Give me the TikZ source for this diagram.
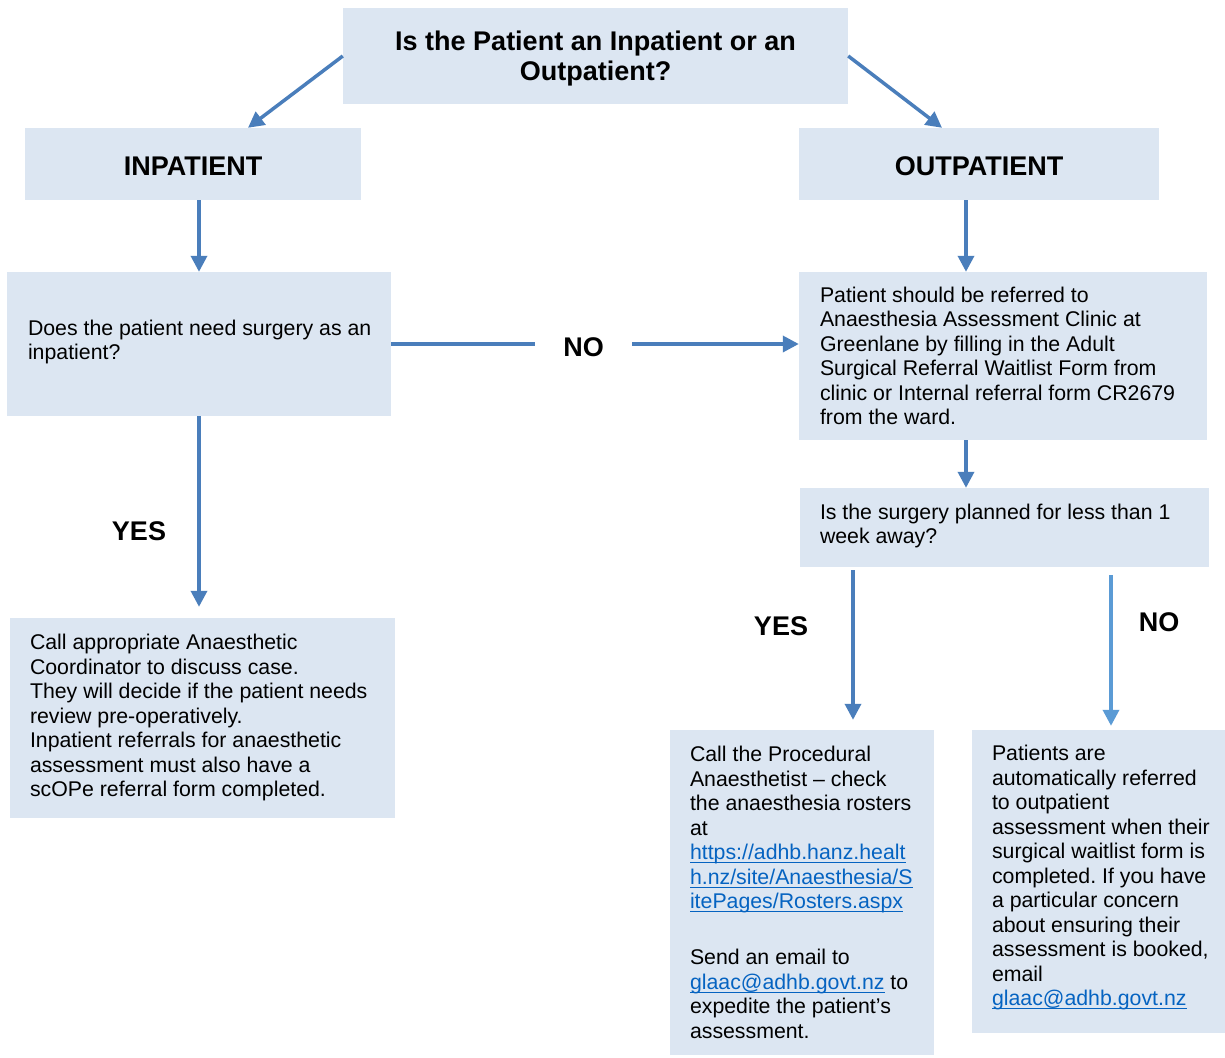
\documentclass[tikz,border=0pt]{standalone}
\usepackage{fontspec}
\setmainfont{Liberation Sans}
\usetikzlibrary{arrows.meta,calc}
\definecolor{boxfill}{HTML}{DCE6F2}
\definecolor{arrowblue}{HTML}{4A7EBB}
\definecolor{arrowlight}{HTML}{5B9BD5}
\definecolor{linkblue}{HTML}{0563C1}
\newcommand{\lnk}[1]{{\color{linkblue}\setbox0=\hbox{#1}\rlap{\rule[-3.5pt]{\wd0}{1.3pt}}\box0}}
\frenchspacing
\tikzset{
  boxnode/.style={rectangle, fill=boxfill, draw=none, inner sep=0pt},
  bodytxt/.style={inner sep=0pt, align=left, anchor=west, font=\fontsize{21.3}{24.5}\selectfont},
  headtxt/.style={inner sep=0pt, font=\fontsize{27}{30}\selectfont\bfseries, align=center},
  flowarrow/.style={draw=arrowblue, line width=3.5pt, -{Triangle[length=16pt,width=16pt]}},
  flowline/.style={draw=arrowblue, line width=3.5pt},
  labeltxt/.style={inner sep=0pt, font=\fontsize{27}{30}\selectfont\bfseries}
}
\begin{document}
\begin{tikzpicture}[x=1pt,y=-1pt]
\useasboundingbox (0,0) rectangle (1225,1057);

% boxes
\node[boxnode, minimum width=505pt, minimum height=96pt] (q1) at (595.5,56) {};
\node[headtxt] (q1t) at ([yshift=-3pt]q1.center) {Is the Patient an Inpatient or an\\Outpatient?};
\node[boxnode, minimum width=336pt, minimum height=72pt] (inp) at (193,164) {};
\node[headtxt] (inpt) at ([yshift=-2pt]inp.center) {INPATIENT};
\node[boxnode, minimum width=360pt, minimum height=72pt] (outp) at (979,164) {};
\node[headtxt] (outpt) at ([yshift=-2pt]outp.center) {OUTPATIENT};

\node[boxnode, minimum width=384pt, minimum height=144pt] (q2) at (199,344) {};
\node[bodytxt] (q2t) at ([xshift=21pt,yshift=2pt]q2.west) {Does the patient need surgery as an\\inpatient?};

\node[boxnode, minimum width=408pt, minimum height=168pt] (ref) at (1003,356) {};
\node[bodytxt] (reft) at ([xshift=21pt]ref.west) {Patient should be referred to\\Anaesthesia Assessment Clinic at\\Greenlane by filling in the Adult\\Surgical Referral Waitlist Form from\\clinic or Internal referral form CR2679\\from the ward.};

\node[boxnode, minimum width=409pt, minimum height=79pt] (q3) at (1004.5,527.5) {};
\node[bodytxt] (q3t) at ([xshift=20pt,yshift=1.5pt]q3.west) {Is the surgery planned for less than 1\\week away?};

\node[boxnode, minimum width=385pt, minimum height=200pt] (c1) at (202.5,718) {};
\node[bodytxt] (c1t) at ([xshift=20pt,yshift=0.5pt]c1.west) {Call appropriate Anaesthetic\\Coordinator to discuss case.\\They will decide if the patient needs\\review pre-operatively.\\Inpatient referrals for anaesthetic\\assessment must also have a\\scOPe referral form completed.};

\node[boxnode, minimum width=264pt, minimum height=325pt] (c2) at (802,892.5) {};
\node[bodytxt] (c2t) at ([xshift=20pt]c2.west) {Call the Procedural\\Anaesthetist \textendash{} check\\the anaesthesia rosters\\at\\\lnk{https://adhb.hanz.healt}\\\lnk{h.nz/site/Anaesthesia/S}\\\lnk{itePages/Rosters.aspx}\\[31.5pt]Send an email to\\\lnk{glaac@adhb.govt.nz} to\\expedite the patient’s\\assessment.};

\node[boxnode, minimum width=253pt, minimum height=303pt] (c3) at (1098.5,881.5) {};
\node[bodytxt] (c3t) at ([xshift=20pt,yshift=4pt]c3.west) {Patients are\\automatically referred\\to outpatient\\assessment when their\\surgical waitlist form is\\completed. If you have\\a particular concern\\about ensuring their\\assessment is booked,\\email\\\lnk{glaac@adhb.govt.nz}};

% labels
\node[labeltxt, minimum width=97pt] (no1) at (583.5,347) {NO};
\node[labeltxt] (yes1) at (139,531) {YES};
\node[labeltxt] (yes2) at (781,626) {YES};
\node[labeltxt] (no2) at (1159,622) {NO};

% connectors
\draw[flowarrow] (q1.west) -- ([xshift=55pt]inp.north);
\draw[flowarrow] (q1.east) -- ([xshift=-37pt]outp.north);
\draw[flowarrow] ([xshift=6pt]inp.south) -- ([xshift=6pt]inp.south |- q2.north);
\draw[flowarrow] ([xshift=-13pt]outp.south) -- ([xshift=-13pt]outp.south |- ref.north);
\draw[flowline] (q2.east) -- (q2.east -| no1.west);
\draw[flowarrow] (q2.east -| no1.east) -- (q2.east -| ref.west);
\draw[flowarrow] (q2.south) -- ([yshift=11pt]c1.north -| q2.south);
\draw[flowarrow] ([xshift=-37pt]ref.south) -- ([xshift=-37pt]ref.south |- q3.north);
\coordinate (s2) at ([yshift=-3pt]q3.south -| 853,0);
\coordinate (s3) at ([yshift=-8pt]q3.south -| 1111,0);
\draw[flowarrow] (s2) -- ([yshift=10pt]c2.north -| s2);
\draw[flowarrow, draw=arrowlight, fill=arrowlight] (s3) -- ([yshift=4pt]c3.north -| s3);
\end{tikzpicture}
\end{document}
